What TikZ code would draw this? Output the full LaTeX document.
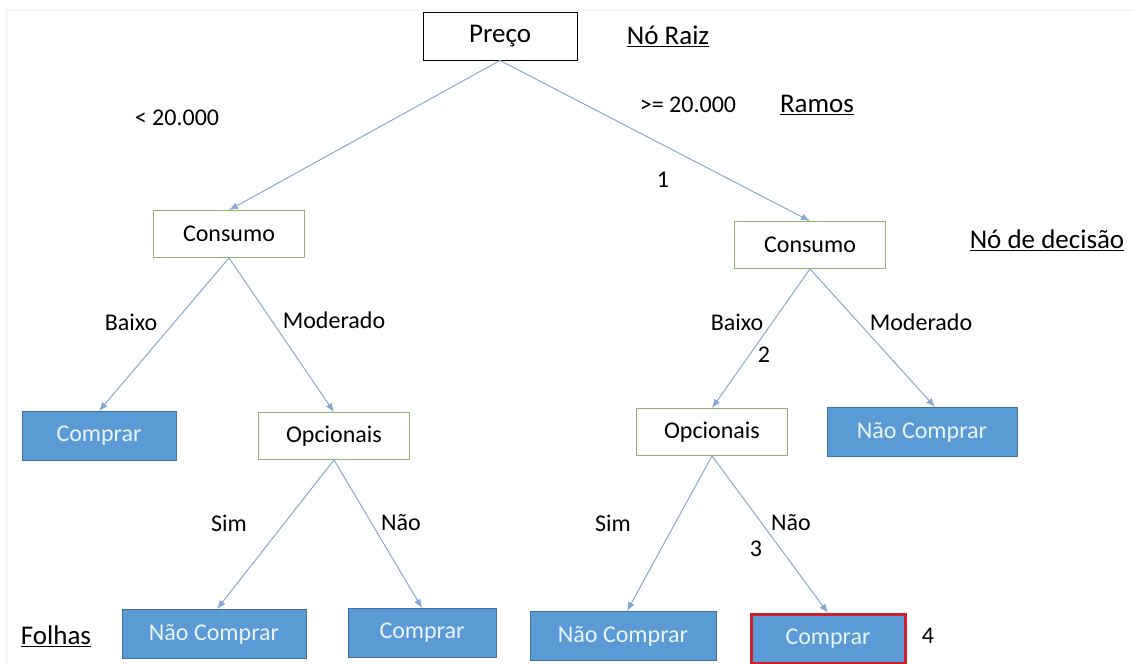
\documentclass[tikz,border=0pt]{standalone}
\usepackage{fontspec}
\setmainfont{Carlito}
\usetikzlibrary{arrows.meta}
\definecolor{edgeblue}{HTML}{86A9D2}
\definecolor{leafblue}{HTML}{5B9BD5}
\definecolor{leafborder}{HTML}{41719C}
\definecolor{leaftext}{HTML}{EAF4FF}
\definecolor{decgreen}{HTML}{8DB46A}
\definecolor{redframe}{HTML}{D0202A}
\tikzset{
  boxtxt/.style={font=\fontsize{24}{28}\selectfont},
  lbl/.style={font=\fontsize{24}{28}\selectfont, inner sep=0pt},
  rootbox/.style={draw=black, line width=0.9pt, minimum width=154pt, minimum height=48pt, inner sep=0pt, font=\fontsize{27}{31}\selectfont},
  decbox/.style={draw=decgreen, line width=0.8pt, fill=white, minimum width=151pt, minimum height=47pt, inner sep=0pt, boxtxt},
  leafbox/.style={draw=leafborder, line width=0.8pt, fill=leafblue, text=leaftext, minimum height=49pt, inner sep=0pt, boxtxt},
  edge/.style={draw=edgeblue, line width=1pt, -{Latex[length=9pt,width=7pt]}},
  uline/.style={font=\fontsize{27}{31}\selectfont, inner sep=0pt}
}
\newcommand{\ul}[1]{\underline{#1}}
\begin{document}
\begin{tikzpicture}[x=1pt,y=-1pt]
\useasboundingbox (0,0) rectangle (1133,664);
\fill[white] (0,0) rectangle (1133,664);
% faint frame
\draw[black!4, line width=1.5pt] (7,670) -- (7,10) -- (1140,10);

% nodes
\node[rootbox] (root) at (500,36) {Preço};
\node[uline] (raiz) at (668,36) {\ul{Nó Raiz}};

\node[decbox] (cl) at (229,234) {Consumo};
\node[decbox] (cr) at (810,245) {Consumo};
\node[uline] (dec) at (1047,240) {\ul{Nó de decisão}};

\node[leafbox, minimum width=154pt] (l1) at (99,436) {Comprar};
\node[decbox] (ol) at (334,436) {Opcionais};
\node[decbox] (or) at (712,432) {Opcionais};
\node[leafbox, minimum width=190pt] (r1) at (922,432) {Não Comprar};

\node[leafbox, minimum width=184pt] (l2) at (214,634) {Não Comprar};
\node[leafbox, minimum width=148pt] (l3) at (422,633) {Comprar};
\node[leafbox, minimum width=186pt] (r2) at (623,636) {Não Comprar};
\node[leafbox, minimum width=154pt, draw=redframe, line width=3pt] (r3) at (828,639) {Comprar};

\node[uline] (folhas) at (56,636) {\ul{Folhas}};

% edges
\draw[edge] (root.south) -- (cl.north);
\draw[edge] (root.south) -- (cr.north);
\draw[edge] (cl.south) -- (l1.north);
\draw[edge] (cl.south) -- (ol.north);
\draw[edge] (cr.south) -- (or.north);
\draw[edge] (cr.south) -- ([xshift=13pt]r1.north);
\draw[edge] (ol.south) -- ([xshift=3pt]l2.north);
\draw[edge] (ol.south) -- (l3.north);
\draw[edge] (or.south) -- ([xshift=4pt]r2.north);
\draw[edge] (or.south) -- (r3.north);

% labels
\node[lbl] (t1) at (177,118) {< 20.000};
\node[lbl] (t2) at (688,105) {>= 20.000};
\node[uline] (ramos) at (817,105) {\ul{Ramos}};
\node[lbl] (n1) at (663,180) {1};
\node[lbl] (bl) at (131,322) {Baixo};
\node[lbl] (ml) at (334,320) {Moderado};
\node[lbl] (br) at (737,322) {Baixo};
\node[lbl] (mr) at (921,322) {Moderado};
\node[lbl] (n2) at (764,355) {2};
\node[lbl] (sl) at (229,523) {Sim};
\node[lbl] (nl) at (401,523) {Não};
\node[lbl] (sr) at (613,523) {Sim};
\node[lbl] (nr) at (791,523) {Não};
\node[lbl] (n3) at (756,549) {3};
\node[lbl] (n4) at (928,636) {4};
\end{tikzpicture}
\end{document}
